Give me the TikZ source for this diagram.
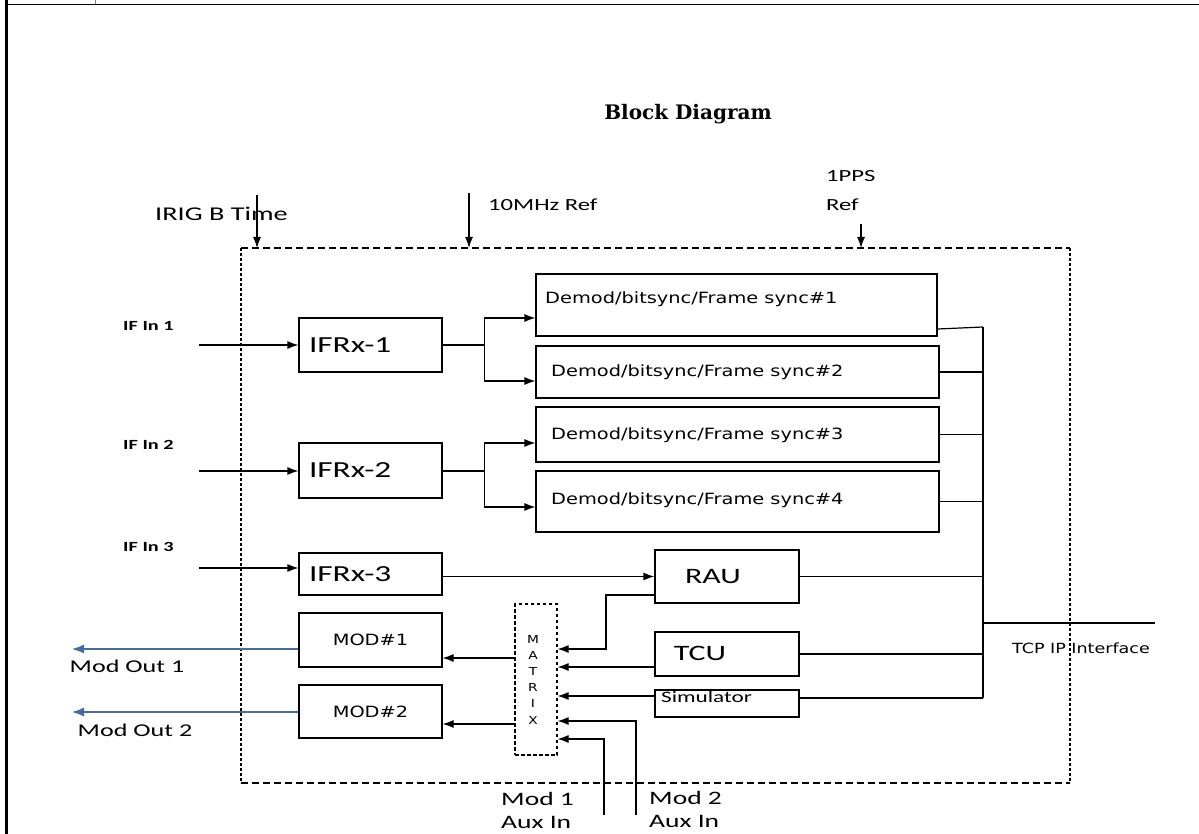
\documentclass[tikz,border=0pt]{standalone}
\usepackage{fontspec}
\usetikzlibrary{arrows.meta}
\newfontfamily\cfont{Carlito}[FakeStretch=1.45]
\newfontfamily\vfont{DejaVu Sans}[FakeStretch=1.25]
\newfontfamily\tfont{DejaVu Serif}
\definecolor{outblue}{RGB}{68,108,160}
\tikzset{
  blk/.style={draw, line width=1.2pt, inner sep=0pt},
  rxbox/.style={blk, minimum width=143pt, text width=123pt, inner xsep=10pt, align=left,
    font={\cfont\fontsize{23}{27}\selectfont}},
  wire/.style={line width=1.2pt},
  arr/.style={wire, -{Latex[length=11pt,width=8pt]}},
  outarr/.style={line width=1.2pt, draw=outblue, -{Latex[length=12pt,width=9pt]}},
  hdash/.style={line width=1.3pt, dash pattern=on 7pt off 4pt},
  vdash/.style={line width=1.3pt, dash pattern=on 3pt off 2pt},
  clab/.style={inner sep=0pt, font={\cfont\fontsize{17}{29}\selectfont}},
  iflab/.style={inner sep=0pt, font={\cfont\bfseries\fontsize{14}{17}\selectfont}},
  dtext/.style={inner sep=0pt, font={\vfont\fontsize{15.5}{18}\selectfont}},
  mtxlab/.style={inner sep=0pt, font={\vfont\fontsize{11}{13}\selectfont}}
}
\begin{document}
\begin{tikzpicture}[x=1pt,y=-1pt]
\useasboundingbox (0,0) rectangle (1199,834);
\draw[line width=3pt] (6,0) -- (6,834);
\draw[line width=1.8pt] (6,4.5) -- (1199,4.5);
\draw[gray, line width=0.8pt] (95,0) -- (95,4);

\node[font={\tfont\bfseries\fontsize{20}{24}\selectfont}] (title) at (688,114) {Block Diagram};

\draw[hdash] (241,248) -- (1070,248);
\draw[hdash] (241,783) -- (1070,783);
\draw[vdash] (241,248) -- (241,783);
\draw[vdash] (1070,248) -- (1070,783);
\coordinate (boxtop) at (0,248);

\node[clab, anchor=west, font={\cfont\fontsize{19.5}{24}\selectfont}] (irigtxt) at (155,214) {IRIG B Time};
\node[clab, anchor=west] (reftxt) at (488,205) {10MHz Ref};
\node[clab, anchor=west, align=left] (ppstxt) at (826,191) {1PPS\\Ref};
\coordinate (irig) at (257,195);
\coordinate (tenmhz) at (469,193);
\coordinate (pps) at (861,224);
\draw[arr] (irig) -- (irig |- boxtop);
\draw[arr] (tenmhz) -- (tenmhz |- boxtop);
\draw[arr] (pps) -- (pps |- boxtop);

\node[iflab, anchor=west] (if1txt) at (123,326) {IF In 1};
\node[iflab, anchor=west] (if2txt) at (123,445) {IF In 2};
\node[iflab, anchor=west] (if3txt) at (123,547) {IF In 3};
\coordinate (in1) at (199,345);
\coordinate (in2) at (199,471);
\coordinate (in3) at (199,568);

\node[rxbox, minimum height=54pt] (ifrx1) at (370.5,345) {IFRx-1};
\node[rxbox, minimum height=55pt] (ifrx2) at (370.5,470.5) {IFRx-2};
\node[rxbox, minimum height=42pt] (ifrx3) at (370.5,574) {IFRx-3};
\draw[arr] (in1) -- (in1 -| ifrx1.west);
\draw[arr] (in2) -- (in2 -| ifrx2.west);
\draw[arr] (in3) -- (in3 -| ifrx3.west);

\node[blk, minimum width=401pt, minimum height=62pt] (d1) at (736.5,305) {};
\node[blk, minimum width=403pt, minimum height=52pt] (d2) at (737.5,372) {};
\node[blk, minimum width=403pt, minimum height=55pt] (d3) at (737.5,434.5) {};
\node[blk, minimum width=403pt, minimum height=61pt] (d4) at (737.5,501.5) {};
\node[dtext, anchor=west] (d1txt) at (545,299) {Demod/bitsync/Frame sync\#1};
\node[dtext, anchor=west] (d2txt) at (551,372) {Demod/bitsync/Frame sync\#2};
\node[dtext, anchor=west] (d3txt) at (551,435) {Demod/bitsync/Frame sync\#3};
\node[dtext, anchor=west] (d4txt) at (551,500) {Demod/bitsync/Frame sync\#4};

\coordinate (br1) at ([xshift=42pt]ifrx1.east);
\coordinate (br2) at (br1 |- in2);
\draw[wire] (ifrx1.east) -- (br1);
\draw[arr] (br1) |- ([yshift=-13pt]d1.west);
\draw[arr] (br1) |- ([yshift=-9pt]d2.west);
\draw[wire] (ifrx2.east |- br2) -- (br2);
\draw[arr] (br2) |- ([yshift=-8.5pt]d3.west);
\draw[arr] (br2) |- ([yshift=-5.5pt]d4.west);

\node[blk, minimum width=144pt, minimum height=53pt] (rau) at (727,576.5) {};
\node[blk, minimum width=144pt, minimum height=44pt] (tcu) at (727,654) {};
\node[blk, minimum width=144pt, minimum height=27pt] (sim) at (727,703.5) {};
\node[inner sep=0pt, font={\cfont\fontsize{22}{26}\selectfont}] (rautxt) at (713,577) {RAU};
\node[inner sep=0pt, font={\cfont\fontsize{22}{26}\selectfont}] (tcutxt) at (700,653) {TCU};
\node[inner sep=0pt, anchor=west, font={\cfont\fontsize{16}{19}\selectfont}] (simtxt) at (661,697) {Simulator};
\draw[arr] (ifrx3.east |- rau) -- (rau.west);

\node[draw, line width=1.2pt, dash pattern=on 3.5pt off 2.5pt, minimum width=42pt, minimum height=151pt] (mtx) at (536,679.5) {};
\foreach \ch [count=\i] in {M,A,T,R,I,X}
  \node[mtxlab] (mtx\i) at (533,{622.8+16.2*\i}) {\ch};

\coordinate (rauknee) at (606,595);
\coordinate (mx1) at ([yshift=30.5pt]mtx.east);
\coordinate (mx2) at ([yshift=12.5pt]mtx.east);
\coordinate (mx3) at ([yshift=-16.5pt]mtx.east);
\coordinate (mx4) at ([yshift=-41.5pt]mtx.east);
\coordinate (mx5) at ([yshift=-59.5pt]mtx.east);
\draw[arr] (rau.west |- rauknee) -- (rauknee) |- (mx1);
\draw[arr] (tcu.west |- mx2) -- (mx2);
\draw[arr] (sim.west |- mx3) -- (mx3);
\coordinate (aux1) at (604,815);
\coordinate (aux2) at (636,815);
\draw[arr] (aux2) |- (mx4);
\draw[arr] (aux1) |- (mx5);
\node[clab, anchor=north west, align=left, font={\cfont\fontsize{19}{23}\selectfont}] (aux1txt) at (501,792) {Mod 1\\Aux In};
\node[clab, anchor=north west, align=left, font={\cfont\fontsize{19}{23}\selectfont}] (aux2txt) at (649,791) {Mod 2\\Aux In};

\node[blk, minimum width=143pt, minimum height=54pt, font={\vfont\fontsize{15.5}{18}\selectfont}] (mod1) at (370.5,640) {MOD\#1};
\node[blk, minimum width=143pt, minimum height=53pt, font={\vfont\fontsize{15.5}{18}\selectfont}] (mod2) at (370.5,711.5) {MOD\#2};
\coordinate (m1in) at ([yshift=-18pt]mod1.east);
\coordinate (m2in) at ([yshift=-12.5pt]mod2.east);
\draw[arr] (mtx.west |- m1in) -- (m1in);
\draw[arr] (mtx.west |- m2in) -- (m2in);

\coordinate (out1) at (72,649);
\coordinate (out2) at (72,712);
\draw[outarr] (mod1.west |- out1) -- (out1);
\draw[outarr] (mod2.west |- out2) -- (out2);
\node[clab, font={\cfont\fontsize{18}{22}\selectfont}] (out1txt) at (127,666) {Mod Out 1};
\node[clab, font={\cfont\fontsize{18}{22}\selectfont}] (out2txt) at (135,730) {Mod Out 2};

\coordinate (bustop) at (983,327);
\coordinate (busbot) at (983,698);
\draw[wire] (bustop) -- (busbot);
\draw[wire] ([yshift=-24pt]d1.east) -- (bustop);
\draw[wire] (d2.east) -- (d2.east -| bustop);
\draw[wire] (d3.east) -- (d3.east -| bustop);
\draw[wire] (d4.east) -- (d4.east -| bustop);
\draw[wire] (rau.east) -- (rau.east -| bustop);
\draw[wire] (tcu.east) -- (tcu.east -| bustop);
\draw[wire] ([yshift=5.5pt]sim.east) -- (busbot);
\coordinate (tcp) at (1155,623);
\draw[wire] (bustop |- tcp) -- (tcp);
\node[inner sep=0pt, font={\vfont\fontsize{14}{17}\selectfont}] (tcptxt) at (1081,648) {TCP IP Interface};
\end{tikzpicture}
\end{document}
